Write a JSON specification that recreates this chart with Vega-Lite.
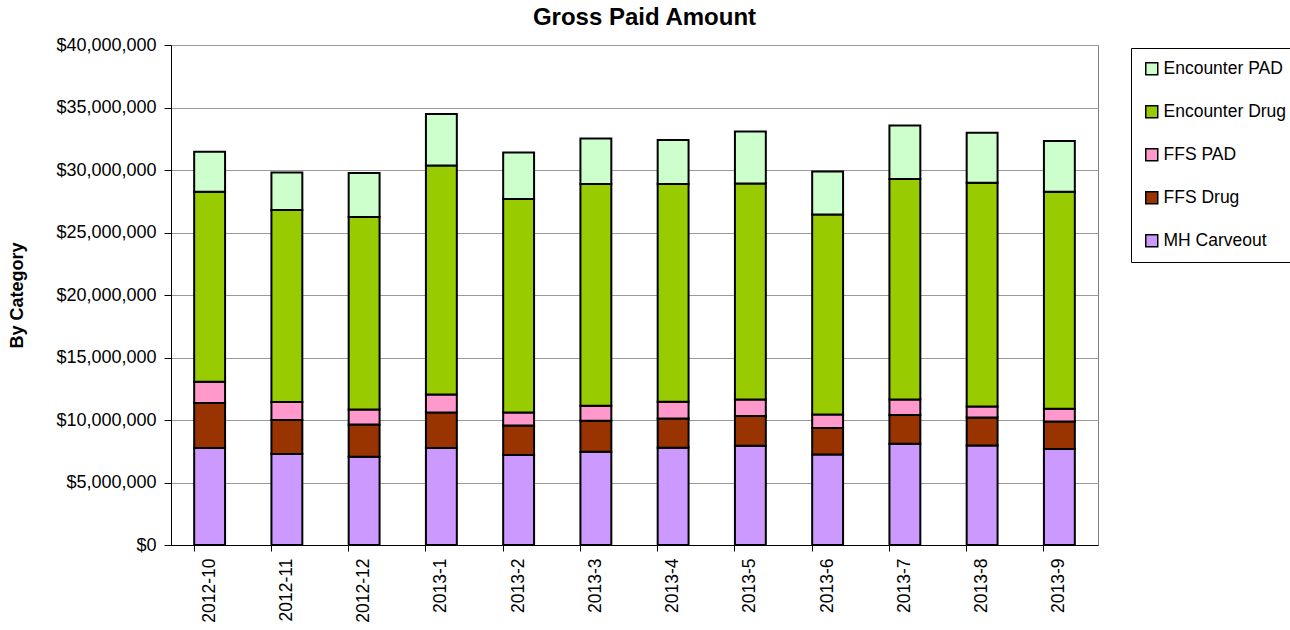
{
  "$schema": "https://vega.github.io/schema/vega-lite/v6.json",
  "autosize": "none",
  "width": 927,
  "height": 500,
  "padding": {"left": 171, "top": 45, "right": 192, "bottom": 85},
  "background": "white",
  "config": {
    "font": "Liberation Sans",
    "view": {"stroke": "#808080", "strokeWidth": 1}
  },
  "title": {
    "text": "Gross Paid Amount",
    "font": "Liberation Sans",
    "fontSize": 24,
    "fontWeight": "bold",
    "color": "black",
    "anchor": "middle",
    "dx": 10,
    "offset": 6
  },
  "data": {
    "values": [
      {"month": "2012-10", "category": "MH Carveout", "amount": 7760000},
      {"month": "2012-10", "category": "FFS Drug", "amount": 3600000},
      {"month": "2012-10", "category": "FFS PAD", "amount": 1700000},
      {"month": "2012-10", "category": "Encounter Drug", "amount": 15210000},
      {"month": "2012-10", "category": "Encounter PAD", "amount": 3200000},
      {"month": "2012-11", "category": "MH Carveout", "amount": 7280000},
      {"month": "2012-11", "category": "FFS Drug", "amount": 2720000},
      {"month": "2012-11", "category": "FFS PAD", "amount": 1440000},
      {"month": "2012-11", "category": "Encounter Drug", "amount": 15360000},
      {"month": "2012-11", "category": "Encounter PAD", "amount": 3000000},
      {"month": "2012-12", "category": "MH Carveout", "amount": 7070000},
      {"month": "2012-12", "category": "FFS Drug", "amount": 2580000},
      {"month": "2012-12", "category": "FFS PAD", "amount": 1200000},
      {"month": "2012-12", "category": "Encounter Drug", "amount": 15390000},
      {"month": "2012-12", "category": "Encounter PAD", "amount": 3520000},
      {"month": "2013-1", "category": "MH Carveout", "amount": 7760000},
      {"month": "2013-1", "category": "FFS Drug", "amount": 2850000},
      {"month": "2013-1", "category": "FFS PAD", "amount": 1440000},
      {"month": "2013-1", "category": "Encounter Drug", "amount": 18320000},
      {"month": "2013-1", "category": "Encounter PAD", "amount": 4110000},
      {"month": "2013-2", "category": "MH Carveout", "amount": 7200000},
      {"month": "2013-2", "category": "FFS Drug", "amount": 2370000},
      {"month": "2013-2", "category": "FFS PAD", "amount": 1040000},
      {"month": "2013-2", "category": "Encounter Drug", "amount": 17070000},
      {"month": "2013-2", "category": "Encounter PAD", "amount": 3730000},
      {"month": "2013-3", "category": "MH Carveout", "amount": 7470000},
      {"month": "2013-3", "category": "FFS Drug", "amount": 2480000},
      {"month": "2013-3", "category": "FFS PAD", "amount": 1200000},
      {"month": "2013-3", "category": "Encounter Drug", "amount": 17730000},
      {"month": "2013-3", "category": "Encounter PAD", "amount": 3650000},
      {"month": "2013-4", "category": "MH Carveout", "amount": 7790000},
      {"month": "2013-4", "category": "FFS Drug", "amount": 2340000},
      {"month": "2013-4", "category": "FFS PAD", "amount": 1340000},
      {"month": "2013-4", "category": "Encounter Drug", "amount": 17410000},
      {"month": "2013-4", "category": "Encounter PAD", "amount": 3520000},
      {"month": "2013-5", "category": "MH Carveout", "amount": 7950000},
      {"month": "2013-5", "category": "FFS Drug", "amount": 2370000},
      {"month": "2013-5", "category": "FFS PAD", "amount": 1330000},
      {"month": "2013-5", "category": "Encounter Drug", "amount": 17280000},
      {"month": "2013-5", "category": "Encounter PAD", "amount": 4160000},
      {"month": "2013-6", "category": "MH Carveout", "amount": 7250000},
      {"month": "2013-6", "category": "FFS Drug", "amount": 2110000},
      {"month": "2013-6", "category": "FFS PAD", "amount": 1090000},
      {"month": "2013-6", "category": "Encounter Drug", "amount": 16000000},
      {"month": "2013-6", "category": "Encounter PAD", "amount": 3440000},
      {"month": "2013-7", "category": "MH Carveout", "amount": 8110000},
      {"month": "2013-7", "category": "FFS Drug", "amount": 2290000},
      {"month": "2013-7", "category": "FFS PAD", "amount": 1250000},
      {"month": "2013-7", "category": "Encounter Drug", "amount": 17630000},
      {"month": "2013-7", "category": "Encounter PAD", "amount": 4290000},
      {"month": "2013-8", "category": "MH Carveout", "amount": 7970000},
      {"month": "2013-8", "category": "FFS Drug", "amount": 2240000},
      {"month": "2013-8", "category": "FFS PAD", "amount": 880000},
      {"month": "2013-8", "category": "Encounter Drug", "amount": 17900000},
      {"month": "2013-8", "category": "Encounter PAD", "amount": 4000000},
      {"month": "2013-9", "category": "MH Carveout", "amount": 7680000},
      {"month": "2013-9", "category": "FFS Drug", "amount": 2210000},
      {"month": "2013-9", "category": "FFS PAD", "amount": 1020000},
      {"month": "2013-9", "category": "Encounter Drug", "amount": 17360000},
      {"month": "2013-9", "category": "Encounter PAD", "amount": 4050000}
    ]
  },
  "transform": [
    {"calculate": "indexof(['MH Carveout','FFS Drug','FFS PAD','Encounter Drug','Encounter PAD'], datum.category)", "as": "stackOrder"}
  ],
  "resolve": {"axis": {"x": "independent"}},
  "layer": [
    {
      "mark": {"type": "rule", "opacity": 0},
      "encoding": {
        "x": {
          "field": "month", "type": "nominal", "sort": null,
          "scale": {"paddingInner": 0.6, "paddingOuter": 0.3},
          "axis": {
            "orient": "bottom",
            "title": null,
            "labels": false,
            "ticks": true,
            "bandPosition": 0,
            "tickSize": 6,
            "tickColor": "black",
            "domainColor": "black",
            "domainWidth": 1,
            "grid": false
          }
        }
      }
    },
    {
      "mark": {"type": "bar", "stroke": "black", "strokeWidth": 2},
      "encoding": {
        "x": {
          "field": "month", "type": "nominal", "sort": null,
          "axis": {
            "orient": "bottom",
            "title": null,
            "labelAngle": -90,
            "labelFontSize": 17.5,
            "labelColor": "black",
            "labelPadding": 13,
            "ticks": false,
            "domain": false,
            "grid": false
          }
        },
        "y": {
          "field": "amount", "type": "quantitative", "stack": "zero",
          "scale": {"domain": [0, 40000000]},
          "axis": {
            "title": "By Category",
            "titleFontSize": 18,
            "titleFontWeight": "bold",
            "titleColor": "black",
            "titlePadding": 29,
            "format": "$,.0f",
            "values": [0, 5000000, 10000000, 15000000, 20000000, 25000000, 30000000, 35000000, 40000000],
            "labelFontSize": 18,
            "labelColor": "black",
            "labelPadding": 8,
            "tickColor": "black",
            "tickSize": 7,
            "domainColor": "black",
            "gridColor": "#9a9a9a",
            "gridWidth": 1
          }
        },
        "color": {
          "field": "category", "type": "nominal",
          "scale": {
            "domain": ["Encounter PAD", "Encounter Drug", "FFS PAD", "FFS Drug", "MH Carveout"],
            "range": ["#CCFFCC", "#99CC00", "#FF99CC", "#993300", "#CC99FF"]
          },
          "legend": {
            "title": null,
            "orient": "none",
            "legendX": 960,
            "legendY": 3,
            "symbolType": "square",
            "symbolSize": 144,
            "symbolStrokeColor": "black",
            "symbolStrokeWidth": 1.5,
            "symbolOpacity": 1,
            "labelFontSize": 17.5,
            "labelColor": "black",
            "labelLimit": 250,
            "rowPadding": 24,
            "padding": 12,
            "strokeColor": "black",
            "fillColor": "white",
            "labelOffset": 3
          }
        },
        "order": {"field": "stackOrder", "type": "quantitative", "sort": "ascending"}
      }
    }
  ]
}
